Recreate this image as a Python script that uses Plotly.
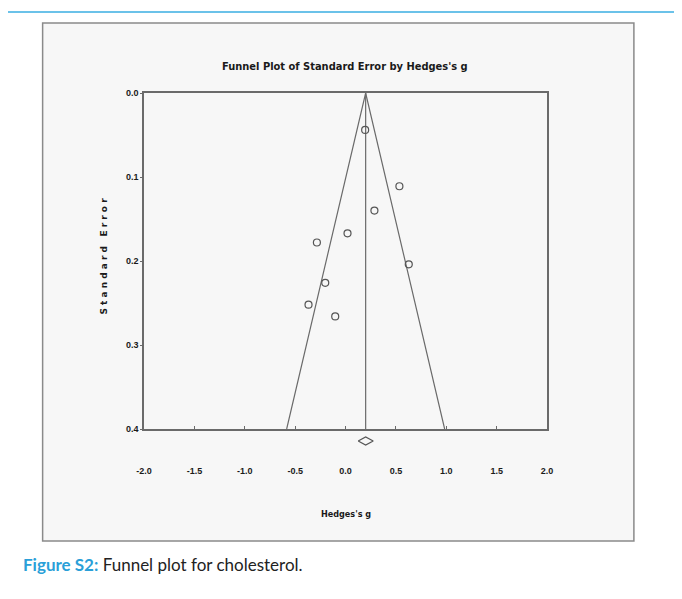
import plotly.graph_objects as go

# ---- data ----
hedges_g = [0.195, 0.535, 0.287, 0.020, -0.284, 0.628, -0.201, -0.367, -0.102]
std_error = [0.044, 0.111, 0.140, 0.167, 0.178, 0.204, 0.226, 0.252, 0.266]
summary_g = 0.20
summary_ci = [0.126, 0.275]
se_max = 0.4
x_ticks = [-2.0, -1.5, -1.0, -0.5, 0.0, 0.5, 1.0, 1.5, 2.0]
x_tick_labels = ["-2.0", "-1.5", "-1.0", "-0.5", "0.0", "0.5", "1.0", "1.5", "2.0"]
y_ticks = [0.0, 0.1, 0.2, 0.3, 0.4]
y_tick_labels = ["0.0", "0.1", "0.2", "0.3", "0.4"]

W, H = 682, 599
OFF = 8  # default page body margin
# plot area in screen pixels
SX0, SX1, SY0, SY1 = 143.5, 547, 93, 449
L, T = SX0 - OFF, SY0 - OFF
R, B = W - (SX1 - OFF), H - (SY1 - OFF)
pw, ph = SX1 - SX0, SY1 - SY0
AXIS_Y = 429  # screen y of the x-axis (SE = 0.4)
ydom0 = (SY1 - AXIS_Y) / ph
DIAM_C = 441
y2dom = [0, 2 * (SY1 - DIAM_C) / ph]

def px(xs):
    return (xs - SX0) / pw

def py(ys):
    return (SY1 - ys) / ph

COND = "DejaVu Sans Condensed, DejaVu Sans, sans-serif"
TICKF = "Liberation Sans, Arial, sans-serif"
LINE = "#6a6a6a"

fig = go.Figure()

# funnel (pseudo 95% limits)
fig.add_trace(go.Scatter(
    x=[summary_g - 1.96 * se_max, summary_g, summary_g + 1.96 * se_max],
    y=[se_max, 0, se_max],
    mode="lines", line=dict(color=LINE, width=1.2), hoverinfo="skip", showlegend=False))
fig.add_trace(go.Scatter(
    x=[summary_g, summary_g], y=[0, se_max],
    mode="lines", line=dict(color=LINE, width=1.2), hoverinfo="skip", showlegend=False))

# studies
fig.add_trace(go.Scatter(
    x=hedges_g, y=std_error, mode="markers",
    marker=dict(symbol="circle-open", size=7, color="#555555", line=dict(width=1.2)),
    showlegend=False))

# summary diamond below the axis (own thin y axis)
fig.add_trace(go.Scatter(
    x=[summary_ci[0], summary_g, summary_ci[1], summary_g, summary_ci[0]],
    y=[0, 1, 0, -1, 0], xaxis="x", yaxis="y2",
    mode="lines", line=dict(color="#555555", width=1.2), hoverinfo="skip", showlegend=False))

shapes = [
    dict(type="line", xref="paper", yref="paper", x0=px(5), x1=px(690), y0=py(12), y1=py(12),
         line=dict(color="#3aaee2", width=1.5), layer="below"),
    dict(type="line", xref="paper", yref="paper", x0=px(5), x1=px(5), y0=py(12), y1=py(620),
         line=dict(color="#3aaee2", width=1.5), layer="below"),
    dict(type="rect", xref="paper", yref="paper", x0=px(42), x1=px(634), y0=py(541), y1=py(23),
         fillcolor="#f7f7f7", line=dict(color="#8a8a8a", width=1.5), layer="below"),
]

annotations = [
    dict(text="<b>Funnel Plot of Standard Error by Hedges's g</b>", xref="paper", yref="paper",
         x=px(345), y=py(66), showarrow=False, font=dict(family=COND, size=11, color="#1a1a1a"),
         xanchor="center", yanchor="middle"),
    dict(text="<b>Hedges's g</b>", xref="paper", yref="paper",
         x=px(346), y=py(514), showarrow=False, font=dict(family=COND, size=9, color="#1a1a1a"),
         xanchor="center", yanchor="middle"),
    dict(text="<b>" + "\u00a0".join("Standard") + "\u00a0\u00a0\u00a0" + "\u00a0".join("Error") + "</b>",
         xref="paper", yref="paper", textangle=-90,
         x=px(103), y=py(256), showarrow=False, font=dict(family="DejaVu Sans, sans-serif", size=9, color="#1a1a1a"),
         xanchor="center", yanchor="middle"),
    dict(text="<span style='color:#2a9fd8'><b>Figure S2:</b></span> Funnel plot for cholesterol.",
         xref="paper", yref="paper", x=px(20), y=py(564), showarrow=False,
         font=dict(family="Lato, Open Sans, sans-serif", size=17, color="#222"),
         xanchor="left", yanchor="middle"),
]

fig.update_layout(
    width=W, height=H,
    margin=dict(l=L, r=R, t=T, b=B, pad=0),
    paper_bgcolor="white", plot_bgcolor="#f7f7f7",
    shapes=shapes, annotations=annotations,
    xaxis=dict(range=[-2, 2], tickvals=x_ticks, ticktext=["<b>%s</b>" % t for t in x_tick_labels], anchor="y",
               showgrid=False, zeroline=False, showline=True, linecolor=LINE, linewidth=1.5,
               mirror=True, ticks="inside", ticklen=3, tickcolor=LINE, tickwidth=1,
               ticklabelstandoff=32,
               tickfont=dict(family=TICKF, size=9, color="#1a1a1a")),
    yaxis=dict(range=[se_max, 0], domain=[ydom0, 1], tickvals=y_ticks,
               ticktext=["<b>%s</b>" % t for t in y_tick_labels],
               showgrid=False, zeroline=False, showline=True, linecolor=LINE, linewidth=1.5,
               mirror=True, ticks="outside", ticklen=2, tickcolor=LINE, tickwidth=1,
               tickfont=dict(family=TICKF, size=9, color="#1a1a1a")),
    yaxis2=dict(domain=y2dom, range=[-2, 2], visible=False, fixedrange=True),
)

fig.write_html("out.html")
